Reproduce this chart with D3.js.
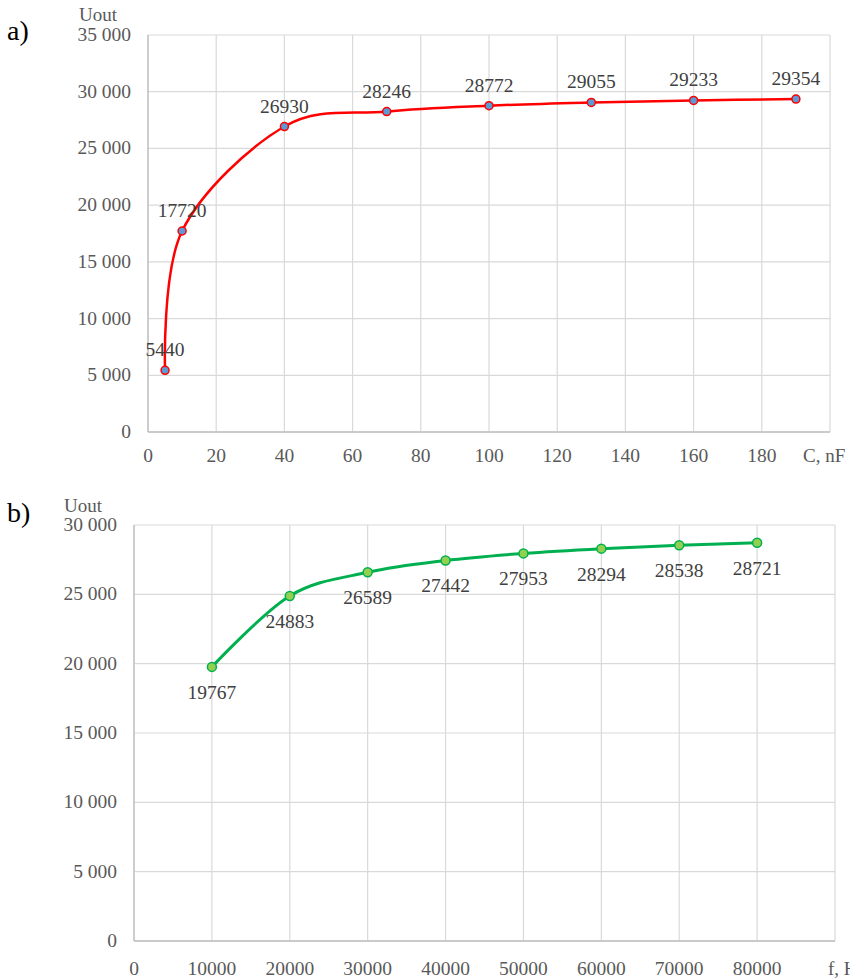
<!DOCTYPE html>
<html>
<head>
<meta charset="utf-8">
<script src="https://cdn.jsdelivr.net/npm/d3@7"></script>
<style>
  html, body { margin: 0; padding: 0; background: #fff; }
  svg { display: block; }
  text { font-family: "Liberation Serif", "Times New Roman", serif; }
</style>
</head>
<body>
<svg id="chart" width="850" height="978"></svg>
<script>
// ---- Data ----
const capacitanceNF = [5, 10, 40, 70, 100, 130, 160, 190];
const uoutA = [5440, 17720, 26930, 28246, 28772, 29055, 29233, 29354];
const xTicksA = [0, 20, 40, 60, 80, 100, 120, 140, 160, 180];
const yTicksA = [0, 5000, 10000, 15000, 20000, 25000, 30000, 35000];

const frequencyHz = [10000, 20000, 30000, 40000, 50000, 60000, 70000, 80000];
const uoutB = [19767, 24883, 26589, 27442, 27953, 28294, 28538, 28721];
const xTicksB = [0, 10000, 20000, 30000, 40000, 50000, 60000, 70000, 80000];
const yTicksB = [0, 5000, 10000, 15000, 20000, 25000, 30000];

const svg = d3.select("#chart");
const gridColor = "#d9d9d9";
const textColor = "#595959";
const fmtY = v => v === 0 ? "0" : d3.format(",")(v).replace(/,/g, " ");

function drawChart(cfg) {
  const x = d3.scaleLinear().domain(cfg.xDomain).range([cfg.left, cfg.right]);
  const y = d3.scaleLinear().domain(cfg.yDomain).range([cfg.bottom, cfg.top]);
  const g = svg.append("g");

  const vgrid = cfg.xTicks.concat([cfg.xDomain[1]]);
  g.selectAll(".vg").data(vgrid).enter().append("line")
    .attr("x1", d => x(d)).attr("x2", d => x(d))
    .attr("y1", cfg.top).attr("y2", cfg.bottom)
    .attr("stroke", gridColor).attr("stroke-width", 1.2);
  g.selectAll(".hg").data(cfg.yTicks).enter().append("line")
    .attr("x1", cfg.left).attr("x2", x(cfg.xDomain[1]))
    .attr("y1", d => y(d)).attr("y2", d => y(d))
    .attr("stroke", gridColor).attr("stroke-width", 1.2);
  g.append("line").attr("x1", cfg.left).attr("x2", cfg.left)
    .attr("y1", cfg.top).attr("y2", cfg.bottom).attr("stroke", "#bfbfbf").attr("stroke-width", 1.3);
  g.append("line").attr("x1", cfg.left).attr("x2", x(cfg.xDomain[1]))
    .attr("y1", cfg.bottom).attr("y2", cfg.bottom).attr("stroke", "#bfbfbf").attr("stroke-width", 1.3);

  g.selectAll(".yl").data(cfg.yTicks).enter().append("text")
    .attr("x", cfg.yLabelRight).attr("y", d => y(d) + 6)
    .attr("text-anchor", "end").attr("font-size", 19.5).attr("fill", textColor)
    .text(fmtY);
  g.selectAll(".xl").data(cfg.xTicks).enter().append("text")
    .attr("x", d => x(d)).attr("y", cfg.xLabelBaseline)
    .attr("text-anchor", "middle").attr("font-size", 19.5).attr("fill", textColor)
    .text(d => String(d));

  g.append("text").attr("x", cfg.yTitleX).attr("y", cfg.yTitleY)
    .attr("text-anchor", "middle").attr("font-size", 19).attr("fill", textColor).text("Uout");
  g.append("text").attr("x", cfg.xTitleX).attr("y", cfg.xLabelBaseline)
    .attr("text-anchor", "start").attr("font-size", 19).attr("fill", textColor).text(cfg.xTitle);
  g.append("text").attr("x", 7).attr("y", cfg.letterY)
    .attr("font-size", 28).attr("fill", "#000").text(cfg.letter);

  const pts = cfg.xs.map((d, i) => [d, cfg.ys[i]]);
  const line = d3.line().x(d => x(d[0])).y(d => y(d[1])).curve(d3.curveCardinal.tension(0));
  g.append("path").attr("d", line(pts)).attr("fill", "none")
    .attr("stroke", cfg.lineColor).attr("stroke-width", cfg.lineWidth)
    .attr("stroke-linejoin", "round").attr("stroke-linecap", "round");

  g.selectAll(".pt").data(pts).enter().append("circle")
    .attr("cx", d => x(d[0])).attr("cy", d => y(d[1])).attr("r", cfg.r)
    .attr("fill", cfg.markerFill).attr("stroke", cfg.markerStroke).attr("stroke-width", 1.5);

  g.selectAll(".dl").data(pts).enter().append("text")
    .attr("x", d => x(d[0])).attr("y", d => y(d[1]) + cfg.labelDy)
    .attr("text-anchor", "middle").attr("font-size", 19.5).attr("fill", "#404040")
    .text(d => String(d[1]));
}

drawChart({
  xs: capacitanceNF, ys: uoutA, xTicks: xTicksA, yTicks: yTicksA,
  xDomain: [0, 200], yDomain: [0, 35000],
  left: 148, right: 830, top: 35, bottom: 432,
  yLabelRight: 131, xLabelBaseline: 462,
  yTitleX: 98, yTitleY: 21, xTitle: "C, nF", xTitleX: 803,
  letter: "a)", letterY: 40,
  lineColor: "#ff0000", lineWidth: 2.5, r: 4,
  markerFill: "#5b9bd5", markerStroke: "#ff0000", labelDy: -14
});

drawChart({
  xs: frequencyHz, ys: uoutB, xTicks: xTicksB, yTicks: yTicksB,
  xDomain: [0, 90000], yDomain: [0, 30000],
  left: 134, right: 835, top: 525, bottom: 941,
  yLabelRight: 117, xLabelBaseline: 975,
  yTitleX: 83, yTitleY: 512, xTitle: "f, Hz", xTitleX: 828,
  letter: "b)", letterY: 522,
  lineColor: "#00b050", lineWidth: 3, r: 4.5,
  markerFill: "#92d050", markerStroke: "#00b050", labelDy: 32
});
</script>
</body>
</html>
